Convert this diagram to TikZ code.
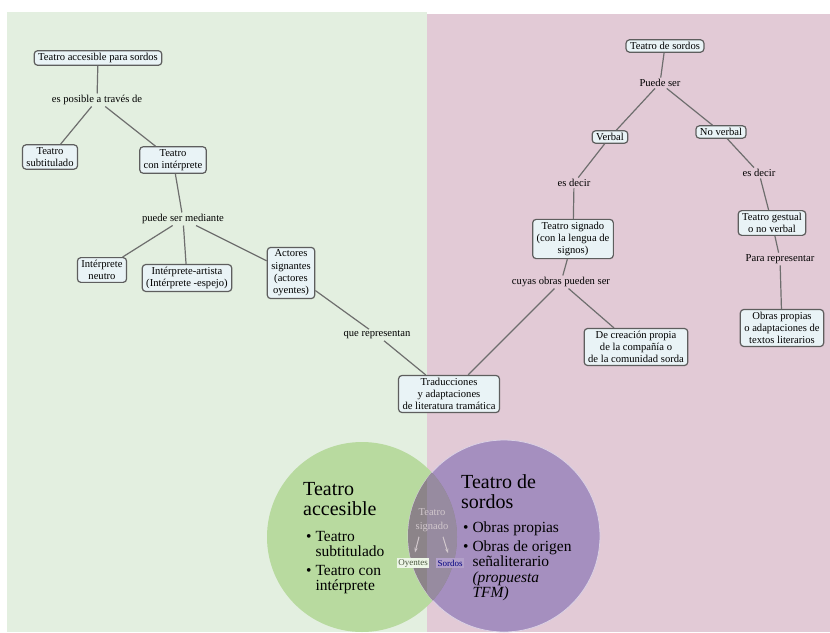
\documentclass[tikz,border=0pt]{standalone}
\usepackage{fontspec}
\setmainfont{Liberation Serif}
\usetikzlibrary{arrows.meta}
\definecolor{greenbg}{HTML}{E3EFE0}
\definecolor{pinkbg}{HTML}{E2CAD6}
\definecolor{boxfill}{HTML}{E9F3F6}
\definecolor{linegray}{HTML}{5E5E5E}
\definecolor{greencirc}{HTML}{B8DA9F}
\definecolor{purplecirc}{HTML}{A58FBF}
\definecolor{lensleft}{HTML}{8C8489}
\definecolor{lensright}{HTML}{978BA0}
\definecolor{lenstext}{HTML}{D2C8CD}
\begin{document}
\begin{tikzpicture}[x=1pt,y=-1pt,
  concept/.style={draw=linegray,line width=1.2pt,rounded corners=3.5pt,fill=boxfill,align=center,inner xsep=4pt,inner ysep=2.5pt,font=\fontsize{10.6}{12.3}\selectfont},
  link/.style={inner sep=1.5pt,font=\fontsize{10.6}{12.3}\selectfont},
  conn/.style={draw=linegray!90,line width=1.2pt},
  venntitle/.style={anchor=north west,align=left,inner sep=0pt,font=\fontsize{20}{20}\selectfont},
  vennlist/.style={anchor=north west,align=left,inner sep=0pt,font=\fontsize{15.5}{15.5}\selectfont},
  lensarrow/.style={lenstext,line width=1pt,-{Stealth[length=4.5pt]}}]
\useasboundingbox (0,0) rectangle (830,632);
\fill[greenbg] (7,12) rectangle (427,632);
\fill[pinkbg] (427,14) rectangle (830,632);
% venn
\fill[greencirc] (362,537) circle[radius=95pt];
\fill[purplecirc] (504,536) circle[radius=96pt];
\draw[white!60!purplecirc,line width=0.8pt] (504,536) circle[radius=96pt];
\begin{scope}
\clip (362,537) circle[radius=95pt];
\fill[lensleft] (504,536) circle[radius=96pt];
\clip (427,0) rectangle (830,632);
\fill[lensright] (504,536) circle[radius=96pt];
\end{scope}
\node[venntitle] (gtitle) at (303,482) {Teatro\\accesible};
\node[vennlist] (glist) at (306,531) {\textbullet\ Teatro\\\hphantom{\textbullet\ }subtitulado\\[3pt]\textbullet\ Teatro con\\\hphantom{\textbullet\ }intérprete};
\node[venntitle] (ptitle) at (461,474) {Teatro de\\sordos};
\node[vennlist] (plist) at (463,522) {\textbullet\ Obras propias\\[3pt]\textbullet\ Obras de origen\\\hphantom{\textbullet\ }señaliterario\\\hphantom{\textbullet\ }\textit{(propuesta}\\\hphantom{\textbullet\ }\textit{TFM)}};
\node[text=lenstext,align=center,inner sep=1pt,font=\fontsize{10.5}{14}\selectfont] (lens) at (432,520) {Teatro\\signado};
\node[fill=white!75!greencirc,text=black!60!greencirc,inner sep=1.5pt,font=\fontsize{9}{9}\selectfont] (oyentes) at (413,563) {Oyentes};
\node[fill=white!15!purplecirc,text=blue!50!black,inner sep=1.5pt,font=\fontsize{9}{9}\selectfont] (sordos) at (450,563) {Sordos};
\draw[lensarrow] ([shift={(-13,4)}]lens.south) -- ([shift={(2,-5)}]oyentes.north);
\draw[lensarrow] ([shift={(11,4)}]lens.south) -- ([shift={(-2,-5)}]sordos.north);
% concept map, left
\node[concept] (taps) at (98,58) {Teatro accesible para sordos};
\node[link] (posible) at (97,100) {es posible a través de};
\node[concept] (subt) at (50,157) {Teatro\\subtitulado};
\node[concept] (coninter) at (173,160) {Teatro\\con intérprete};
\node[link] (mediante) at (183,219) {puede ser mediante};
\node[concept] (neutro) at (102,270) {Intérprete\\neutro};
\node[concept] (artista) at (187,278) {Intérprete-artista\\(Intérprete -espejo)};
\node[concept] (actores) at (291,273) {Actores\\signantes\\(actores\\oyentes)};
\node[link] (representan) at (377,335) {que representan};
\node[concept] (traduc) at (449,394) {Traducciones\\y adaptaciones\\de literatura tramática};
% concept map, right
\node[concept] (tsordos) at (665,46) {Teatro de sordos};
\node[link] (puede) at (660,83) {Puede ser};
\node[concept] (verbal) at (610,137) {Verbal};
\node[concept] (noverbal) at (721,132) {No verbal};
\node[link] (esdecirA) at (574,183) {es decir};
\node[link] (esdecirB) at (759,173) {es decir};
\node[concept] (signado) at (573,239) {Teatro signado\\(con la lengua de\\signos)};
\node[concept] (gestual) at (772,223) {Teatro gestual\\o no verbal};
\node[link] (cuyas) at (561,282) {cuyas obras pueden ser};
\node[link] (para) at (780,259) {Para representar};
\node[concept] (propias) at (782,328) {Obras propias\\o adaptaciones de\\textos literarios};
\node[concept] (creacion) at (636,347) {De creación propia\\de la compañía o\\de la comunidad sorda};
\draw[conn] (taps) -- (posible);
\draw[conn] (posible) -- (subt);
\draw[conn] (posible) -- (coninter);
\draw[conn] (coninter) -- (mediante);
\draw[conn] (mediante) -- (neutro);
\draw[conn] (mediante) -- (artista);
\draw[conn] (mediante) -- (actores);
\draw[conn] (actores) -- (representan);
\draw[conn] (representan) -- (traduc);
\draw[conn] (tsordos) -- (puede);
\draw[conn] (puede) -- (verbal);
\draw[conn] (puede) -- (noverbal);
\draw[conn] (verbal) -- (esdecirA);
\draw[conn] (esdecirA) -- (signado);
\draw[conn] (noverbal) -- (esdecirB);
\draw[conn] (esdecirB) -- (gestual);
\draw[conn] (signado) -- (cuyas);
\draw[conn] (cuyas) -- (traduc);
\draw[conn] (cuyas) -- (creacion);
\draw[conn] (gestual) -- (para);
\draw[conn] (para) -- (propias);
\end{tikzpicture}
\end{document}
